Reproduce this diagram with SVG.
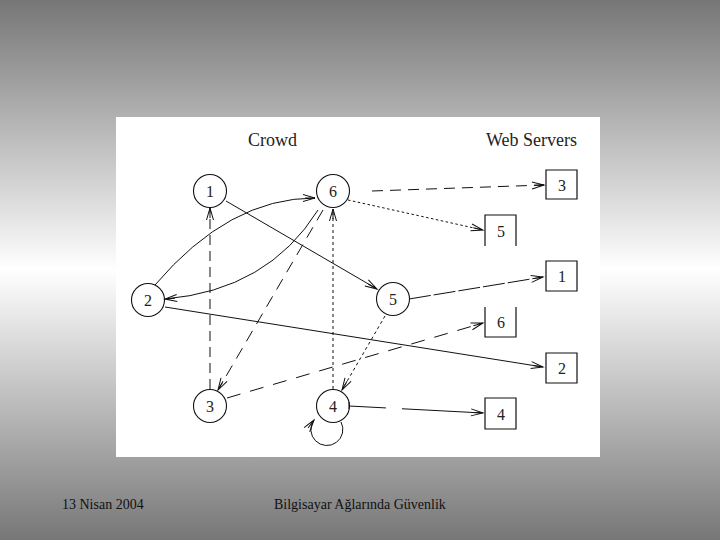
<svg xmlns="http://www.w3.org/2000/svg" width="720" height="540" viewBox="0 0 720 540">
  <defs>
    <linearGradient id="bg" x1="0" y1="0" x2="0" y2="1">
      <stop offset="0" stop-color="#767676"/>
      <stop offset="0.5" stop-color="#ffffff"/>
      <stop offset="1" stop-color="#777777"/>
    </linearGradient>
    <marker id="arr" markerUnits="userSpaceOnUse" markerWidth="16" markerHeight="12" refX="13" refY="5" orient="auto" overflow="visible">
      <path d="M1,1.5 L13,5 L1,8.5 M3,5 L13,5" fill="none" stroke="#111" stroke-width="1"/>
    </marker>
    <style>
      .node circle { fill: none; stroke: #111; stroke-width: 1.1; }
      .box path { fill: none; stroke: #111; stroke-width: 1.2; }
      .lbl { font-family: "Liberation Serif", "Times New Roman", serif; font-size: 16px; fill: #222; text-anchor: middle; }
      .hdr { font-family: "Liberation Serif", "Times New Roman", serif; font-size: 18px; fill: #222; }
      .foot { font-family: "Liberation Serif", "Times New Roman", serif; font-size: 14px; fill: #111; }
      .edge { fill: none; stroke: #111; stroke-width: 1; marker-end: url(#arr); }
      .dash { stroke-dasharray: 11 7; }
      .dot { stroke-dasharray: 2.5 2.5; }
    </style>
  </defs>
  <rect x="0" y="0" width="720" height="540" fill="url(#bg)"/>
  <rect x="116" y="117" width="484" height="340" fill="#ffffff"/>

  <text class="hdr" x="248" y="146">Crowd</text>
  <text class="hdr" x="486" y="146">Web Servers</text>

  <g id="connectors">
    <line class="edge dash" x1="372" y1="191" x2="544" y2="185"/>
    <line class="edge dot" x1="348" y1="200" x2="483" y2="230"/>
    <line class="edge" x1="226" y1="201" x2="377" y2="289"/>
    <path class="edge" d="M155,285 Q229,198 315,198"/>
    <path class="edge" d="M318,210 Q268,290 165,299"/>
    <line class="edge" x1="165" y1="307" x2="543" y2="367"/>
    <line class="edge" x1="409" y1="299" x2="543" y2="277" style="stroke-dasharray:22 3"/>
    <line class="edge" x1="210" y1="389" x2="210" y2="208" style="stroke-dasharray:10 6"/>
    <line class="edge" x1="323" y1="210" x2="218" y2="390" style="stroke-dasharray:12 8"/>
    <line class="edge" x1="333" y1="389" x2="333" y2="209" style="stroke-dasharray:3 3"/>
    <line class="edge" x1="227" y1="398" x2="483" y2="323" style="stroke-dasharray:14 10"/>
    <line class="edge" x1="385" y1="316" x2="342" y2="390" style="stroke-dasharray:3 3"/>
    <line class="edge" x1="349" y1="406" x2="483" y2="413" style="stroke-dasharray:37 16 200"/>
    <line x1="349" y1="402" x2="349" y2="409" stroke="#111" stroke-width="1"/>
    <path class="edge" d="M341,422 A16,16 0 1,1 314,420"/>
  </g>

  <g id="c1" class="node"><circle cx="210" cy="191" r="16.5"/><text class="lbl" x="210" y="197">1</text></g>
  <g id="c6" class="node"><circle cx="333" cy="191" r="16.5"/><text class="lbl" x="333" y="197">6</text></g>
  <g id="c2" class="node"><circle cx="148" cy="300" r="16.5"/><text class="lbl" x="148" y="306">2</text></g>
  <g id="c5" class="node"><circle cx="393" cy="299" r="16.5"/><text class="lbl" x="393" y="305">5</text></g>
  <g id="c3" class="node"><circle cx="210" cy="406" r="16.5"/><text class="lbl" x="210" y="412">3</text></g>
  <g id="c4" class="node"><circle cx="333" cy="406" r="16.5"/><text class="lbl" x="333" y="412">4</text></g>

  <g id="s3" class="box"><path d="M546,170 H577 V199 H546 Z"/><text class="lbl" x="562" y="191">3</text></g>
  <g id="s5" class="box"><path d="M485,246 V215 H516 V246"/><text class="lbl" x="501" y="237">5</text></g>
  <g id="s1" class="box"><path d="M546,261 H577 V291 H546 Z"/><text class="lbl" x="562" y="282">1</text></g>
  <g id="s6" class="box"><path d="M485,307 V337 H516 V307"/><text class="lbl" x="501" y="328">6</text></g>
  <g id="s2" class="box"><path d="M546,353 H577 V383 H546 Z"/><text class="lbl" x="562" y="374">2</text></g>
  <g id="s4" class="box"><path d="M485,398 H516 V429 H485 Z"/><text class="lbl" x="501" y="420">4</text></g>

  <text class="foot" x="62" y="509">13 Nisan 2004</text>
  <text class="foot" x="274" y="509">Bilgisayar Ağlarında Güvenlik</text>
</svg>
